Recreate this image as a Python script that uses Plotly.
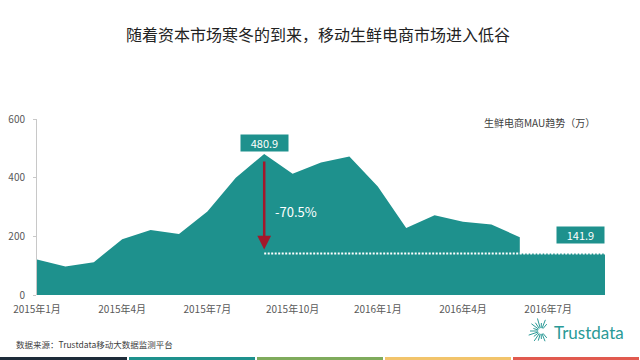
import math
import plotly.graph_objects as go

# ---- data ----
months = list(range(18))
mau = [121, 97, 112, 190, 222, 208, 285, 400, 480.9, 413, 452, 472,
       370, 228, 272, 250, 240, 197]
tail_months = [17, 18, 19, 20]
current_val = 141.9
tail_vals = [current_val] * len(tail_months)
peak_idx = 8
peak_val = 480.9
drop_label = "-70.5%"
tick_pos = [0, 3, 6, 9, 12, 15, 18]
tick_text = ["2015年1月", "2015年4月", "2015年7月", "2015年10月",
             "2016年1月", "2016年4月", "2016年7月"]
y_ticks = [0, 200, 400, 600]

TEAL = "#1e918d"
CJK = "Noto Sans CJK SC"

# layout geometry (pixels)
W, H = 640, 360
L, R, T, B = 37, 35, 119, 65
PW, PH = W - L - R, H - T - B


def px(xpix):
    return (xpix - L) / PW


def py(ypix):
    return (H - B - ypix) / PH


fig = go.Figure()
fig.add_trace(go.Scatter(x=months + tail_months, y=mau + tail_vals, mode="lines",
                         fill="tozeroy", line=dict(color=TEAL, width=0), fillcolor=TEAL,
                         hoverinfo="skip"))
fig.add_trace(go.Scatter(x=[peak_idx, tail_months[-1]], y=[current_val, current_val],
                         mode="lines", line=dict(color="white", width=2, dash="2px,1.5px"),
                         hoverinfo="skip"))

annotations = [
    # arrow
    dict(x=peak_idx, y=current_val, ax=peak_idx, ay=peak_val, xref="x", yref="y",
         axref="x", ayref="y", text="", showarrow=True, arrowhead=2, arrowsize=1.1,
         arrowwidth=2.5, arrowcolor="#a3172b", standoff=4, startstandoff=6),
    dict(x=peak_idx, y=peak_val, xref="x", yref="y", text="480.9", showarrow=False,
         yanchor="bottom", yshift=2, bgcolor=TEAL, width=44, height=13, borderpad=1.5,
         font=dict(family=CJK, size=11, color="white")),
    dict(x=tail_months[-1], y=current_val, xref="x", yref="y", text="141.9",
         showarrow=False, xanchor="right", yanchor="bottom", yshift=9, bgcolor=TEAL,
         width=44, height=13, borderpad=1.5, font=dict(family=CJK, size=11, color="white")),
    dict(x=peak_idx + 0.3, y=285, xref="x", yref="y", text=drop_label, showarrow=False,
         xanchor="left", font=dict(family=CJK, size=13, color="white")),
    dict(x=px(597), y=py(122), xref="paper", yref="paper", text="生鲜电商MAU趋势（万）",
         showarrow=False, xanchor="right", yanchor="middle",
         font=dict(family=CJK, size=10, color="#404040")),
    dict(x=px(14), y=py(344), xref="paper", yref="paper",
         text="数据来源：Trustdata移动大数据监测平台", showarrow=False, xanchor="left",
         yanchor="middle", font=dict(family=CJK, size=8.5, color="#404040")),
    dict(x=px(552), y=py(332), xref="paper", yref="paper", text="Trustdata",
         showarrow=False, xanchor="left", yanchor="middle",
         font=dict(family="Lato", size=17, color="#2a9a97")),
]

shapes = []
# bottom colour bars
bar_colors = ["#1e2c3a", "#1e918d", "#7fab5c", "#f2c46b", "#e15a4f"]
for i, c in enumerate(bar_colors):
    x0 = i * 128 + (0 if i == 0 else 1)
    x1 = (i + 1) * 128 - 1
    shapes.append(dict(type="rect", xref="paper", yref="paper", x0=px(x0), x1=px(x1),
                       y0=py(360), y1=py(357), fillcolor=c, line=dict(width=0)))
# logo sunburst
cx, cy = 541, 331
ray_lens = [9, 12, 8, 13, 10, 12, 8, 11, 13, 9, 12, 10, 8, 11, 9]
n = len(ray_lens)
for k, ln in enumerate(ray_lens):
    ang = math.radians(50 + k * (260 / (n - 1)))
    x0 = cx + 3 * math.cos(ang)
    y0 = cy - 3 * math.sin(ang)
    x1 = cx + ln * math.cos(ang)
    y1 = cy - ln * math.sin(ang)
    shapes.append(dict(type="line", xref="paper", yref="paper", x0=px(x0), y0=py(y0),
                       x1=px(x1), y1=py(y1), line=dict(color="#2a9a97", width=1)))

fig.update_layout(
    width=W, height=H, margin=dict(l=L, r=R, t=T, b=B, autoexpand=False),
    paper_bgcolor="white", plot_bgcolor="white", showlegend=False,
    title=dict(text="随着资本市场寒冬的到来，移动生鲜电商市场进入低谷", x=0.497, xanchor="center",
               y=1 - 35 / H, yanchor="middle",
               font=dict(family=CJK, size=16, color="#222222")),
    xaxis=dict(range=[0, 20], tickmode="array", tickvals=tick_pos, ticktext=tick_text,
               showgrid=False, zeroline=False, showline=False, ticks="",
               ticklabelstandoff=7, automargin=False,
               tickfont=dict(family=CJK, size=10, color="#595959")),
    yaxis=dict(range=[0, 600], tickmode="array", tickvals=y_ticks, showgrid=False,
               zeroline=False, showline=True, linecolor="#c8c8c8", linewidth=1,
               ticks="outside", ticklen=3, tickcolor="#c8c8c8", ticklabelstandoff=6,
               automargin=False,
               tickfont=dict(family=CJK, size=10, color="#595959")),
    annotations=annotations, shapes=shapes,
)

fig.write_html("out.html", config={"displayModeBar": False},
               post_script="document.body.style.margin='0';")
